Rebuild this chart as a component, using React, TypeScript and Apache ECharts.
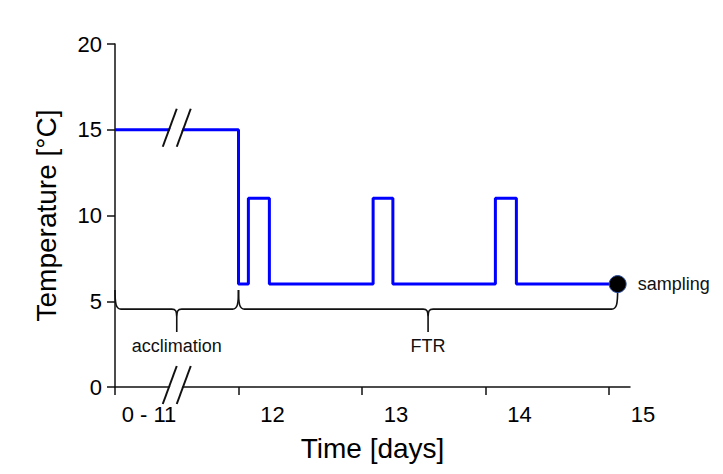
import React, { useEffect, useRef } from "react";
import * as echarts from "echarts";

// Temperature regime: time (days) at which the temperature changes, and the new value
const stepTimes = [11, 12, 12.08, 12.25, 13.09, 13.25, 14.08, 14.25, 15.07];
const stepTemps = [15, 6, 11, 6, 11, 6, 11, 6, 6];

// x axis ticks and their labels
const xTicks = [11, 12, 13, 14, 15];
const xTickLabels = ["0 - 11", "12", "13", "14", "15"];

// y axis ticks
const yTicks = [0, 5, 10, 15, 20];

// sampling point
const samplingTime = [15.07];
const samplingTemp = [6];
const samplingLabel = "sampling";

// phases (braces)
const phaseNames = ["acclimation", "FTR"];
const phaseStarts = [11, 12];
const phaseEnds = [12, 15.07];

// axis / line breaks
const breakTimes = [11.5, 11.5];
const breakTemps = [15, 0];

const FONT = "'Liberation Sans', Arial, sans-serif";
const INK = "#000";

export default function App() {
  const ref = useRef<HTMLDivElement>(null);

  useEffect(() => {
    if (!ref.current) return;
    const chart = echarts.init(ref.current, null, { renderer: "svg" });

    const braceRender = (params: any, api: any) => {
      const i = params.dataIndex;
      const x0 = api.coord([api.value(0), 4.6])[0];
      const x1 = api.coord([api.value(1), 4.6])[0];
      const bar = api.coord([api.value(0), 4.6])[1] + 1;
      const top = bar - 19;
      const tip = bar + 23;
      const xm = (x0 + x1) / 2;
      const d =
        `M ${x0} ${top} C ${x0} ${bar - 5} ${x0 + 1} ${bar} ${x0 + 6} ${bar} ` +
        `L ${xm - 5} ${bar} C ${xm - 1} ${bar} ${xm} ${bar + 2} ${xm} ${bar + 8} ` +
        `L ${xm} ${tip} M ${xm} ${bar + 8} C ${xm} ${bar + 2} ${xm + 1} ${bar} ${xm + 5} ${bar} ` +
        `L ${x1 - 6} ${bar} C ${x1 - 1} ${bar} ${x1} ${bar - 5} ${x1} ${top}`;
      return {
        type: "group",
        children: [
          {
            type: "path",
            shape: { pathData: d },
            style: { fill: "none", stroke: "#111", lineWidth: 1.6 },
          },
          {
            type: "text",
            x: xm,
            y: tip + 14,
            style: {
              text: phaseNames[i],
              font: `18px ${FONT}`,
              fill: "#111",
              align: "center",
              verticalAlign: "middle",
              textAlign: "center",
              textVerticalAlign: "middle",
            },
          },
        ],
      };
    };

    const breakRender = (params: any, api: any) => {
      const c = api.coord([api.value(0), api.value(1)]);
      const cx = c[0];
      const cy = c[1] - 2;
      const dx = 7;
      const dy = 19;
      return {
        type: "group",
        children: [
          {
            type: "polygon",
            shape: {
              points: [
                [cx - 2 * dx + 1, cy + dy],
                [cx + 1, cy - dy],
                [cx + 2 * dx - 1, cy - dy],
                [cx - 1, cy + dy],
              ],
            },
            style: { fill: "#fff", stroke: "none" },
          },
          {
            type: "line",
            shape: { x1: cx - 2 * dx, y1: cy + dy, x2: cx, y2: cy - dy },
            style: { stroke: "#111", lineWidth: 2 },
          },
          {
            type: "line",
            shape: { x1: cx, y1: cy + dy, x2: cx + 2 * dx, y2: cy - dy },
            style: { stroke: "#111", lineWidth: 2 },
          },
        ],
      };
    };

    chart.setOption({
      animation: false,
      backgroundColor: "#fff",
      textStyle: { fontFamily: FONT },
      grid: { left: 115, right: 93, top: 44, bottom: 87, containLabel: false },
      xAxis: {
        type: "value",
        min: 11,
        max: 15.17,
        name: "Time [days]",
        nameLocation: "middle",
        nameGap: 47,
        nameTextStyle: { fontSize: 28, color: INK, fontFamily: FONT, verticalAlign: "top" },
        axisLine: { show: true, lineStyle: { color: "#111", width: 1.5 } },
        axisTick: { show: true, length: 8, customValues: xTicks, lineStyle: { color: "#111", width: 1.5 } },
        axisLabel: {
          customValues: xTicks,
          formatter: (v: number) => {
            const k = xTicks.findIndex((t) => Math.abs(t - v) < 1e-6);
            return k >= 0 ? xTickLabels[k] : "";
          },
          padding: [0, 0, 0, 68],
          margin: 16,
          fontSize: 22,
          color: INK,
          fontFamily: FONT,
        },
        splitLine: { show: false },
      },
      yAxis: {
        type: "value",
        min: yTicks[0],
        max: yTicks[yTicks.length - 1],
        interval: 5,
        name: "Temperature [°C]",
        nameLocation: "middle",
        nameGap: 55,
        nameTextStyle: { fontSize: 28, color: INK, fontFamily: FONT },
        axisLine: { show: true, lineStyle: { color: "#111", width: 1.5 } },
        axisTick: { show: true, length: 8, lineStyle: { color: "#111", width: 1.5 } },
        axisLabel: { margin: 13, fontSize: 22, color: INK, fontFamily: FONT },
        splitLine: { show: false },
      },
      series: [
        {
          type: "line",
          step: "end",
          data: stepTimes.map((t, i) => [t, stepTemps[i]]),
          symbol: "none",
          lineStyle: { color: "#0000ff", width: 3 },
          clip: false,
          z: 3,
        },
        {
          type: "custom",
          data: phaseNames.map((_, i) => [phaseStarts[i], phaseEnds[i]]),
          renderItem: braceRender,
          clip: false,
          z: 4,
        },
        {
          type: "custom",
          data: breakTimes.map((t, i) => [t, breakTemps[i]]),
          renderItem: breakRender,
          clip: false,
          z: 5,
        },
        {
          type: "scatter",
          data: samplingTime.map((t, i) => [t, samplingTemp[i]]),
          symbolSize: 17,
          itemStyle: { color: "#000", borderColor: "#2b4c9b", borderWidth: 1, opacity: 1 },
          label: {
            show: true,
            position: "right",
            distance: 11,
            formatter: samplingLabel,
            fontSize: 18,
            color: "#111",
            opacity: 1,
            fontFamily: FONT,
          },
          clip: false,
          z: 6,
        },
      ],
    });

    return () => chart.dispose();
  }, []);

  return <div ref={ref} style={{ width: 723, height: 474, position: "fixed", left: 0, top: 0 }} />;
}
